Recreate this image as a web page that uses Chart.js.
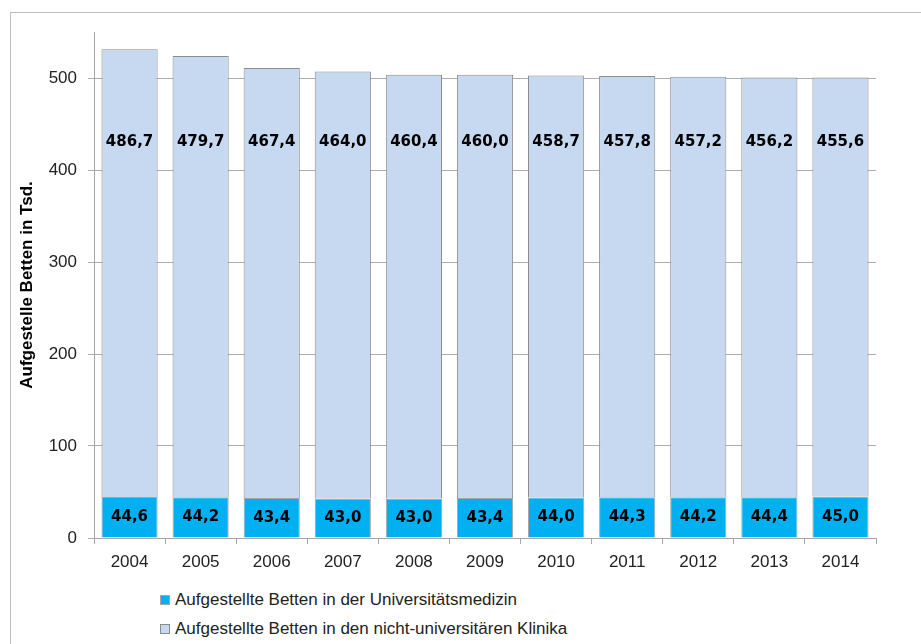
<!DOCTYPE html>
<html>
<head>
<meta charset="utf-8">
<script src="https://cdn.jsdelivr.net/npm/chart.js@4.4.1/dist/chart.umd.min.js"></script>
<style>
  body { margin: 0; width: 921px; height: 644px; overflow: hidden; background: #fff; position: relative; }
  #frame { position: absolute; left: 10px; top: 12px; width: 1000px; height: 800px; border: 1px solid #bfbfbf; }
  #chart { position: absolute; left: 0; top: 0; }
  #legend { position: absolute; left: 160px; top: 590px; font: 17px "Liberation Sans", Arial, sans-serif; color: #222; }
  .item { display: flex; align-items: center; height: 20px; margin-bottom: 9px; }
  .box { width: 8px; height: 8px; margin-right: 5px; border: 1px solid #8c8c8c; }
</style>
</head>
<body>
<div id="frame"></div>
<canvas id="chart" width="921" height="580"></canvas>
<div id="legend"></div>
<script>
const years = ["2004", "2005", "2006", "2007", "2008", "2009", "2010", "2011", "2012", "2013", "2014"];
const uniBeds = [44.6, 44.2, 43.4, 43.0, 43.0, 43.4, 44.0, 44.3, 44.2, 44.4, 45.0];
const otherBeds = [486.7, 479.7, 467.4, 464.0, 460.4, 460.0, 458.7, 457.8, 457.2, 456.2, 455.6];
const seriesNames = ["Aufgestellte Betten in der Universitätsmedizin", "Aufgestellte Betten in den nicht-universitären Klinika"];
const yTicks = [0, 100, 200, 300, 400, 500];

// labels of the upper segments sit at the same height in the original
const topLabelAt = 430;

const fmt = (v) => v.toFixed(1).replace(".", ",");

const barLabels = {
  id: "barLabels",
  afterDatasetsDraw(chart) {
    const ctx = chart.ctx;
    const y = chart.scales.y;
    ctx.save();
    ctx.font = "bold 15px 'DejaVu Sans', sans-serif";
    ctx.fillStyle = "#000";
    ctx.textAlign = "center";
    ctx.textBaseline = "middle";
    chart.data.datasets.forEach((ds, i) => {
      chart.getDatasetMeta(i).data.forEach((bar, j) => {
        const py = i === 0 ? (bar.y + bar.base) / 2 : y.getPixelForValue(topLabelAt);
        ctx.fillText(fmt(ds.data[j]), bar.x, py);
      });
    });
    ctx.restore();
  },
};

const tickFont = { family: "'Liberation Sans', Arial", size: 17 };

const chart = new Chart(document.getElementById("chart"), {
  type: "bar",
  data: {
    labels: years,
    datasets: [
      {
        label: seriesNames[0],
        data: uniBeds,
        backgroundColor: "#00b0f0",
        borderColor: "#a6a6a6",
        borderWidth: 1,
        barPercentage: 0.79,
        categoryPercentage: 1,
      },
      {
        label: seriesNames[1],
        data: otherBeds,
        backgroundColor: "#c6d9f1",
        borderColor: "#8c8c8c",
        borderWidth: 1,
        barPercentage: 0.79,
        categoryPercentage: 1,
      },
    ],
  },
  options: {
    responsive: false,
    animation: false,
    layout: { padding: { left: 0, top: 32, right: 45, bottom: 0 } },
    plugins: {
      legend: { display: false },
      tooltip: { enabled: false },
    },
    scales: {
      x: {
        stacked: true,
        afterFit: (scale) => { scale.height = 42; },
        grid: { drawOnChartArea: false, color: "#a6a6a6", tickLength: 6 },
        border: { color: "#a6a6a6" },
        ticks: { color: "#222", padding: 8, font: tickFont },
      },
      y: {
        stacked: true,
        min: 0,
        max: 550,
        afterBuildTicks: (scale) => {
          scale.ticks = yTicks.map((v) => ({ value: v }));
        },
        afterFit: (scale) => { scale.width = 94; },
        grid: { color: "#adadad", tickLength: 6 },
        border: { color: "#a6a6a6" },
        ticks: { color: "#222", padding: 11, font: tickFont },
        title: {
          display: true,
          text: "Aufgestelle Betten in Tsd.",
          color: "#000",
          padding: { top: 17, bottom: 0 },
          font: { family: "'Liberation Sans', Arial", size: 17, weight: "bold" },
        },
      },
    },
  },
  plugins: [barLabels],
});

// legend stacked vertically, as in the original
const legend = document.getElementById("legend");
chart.data.datasets.forEach((ds) => {
  const item = document.createElement("div");
  item.className = "item";
  const box = document.createElement("span");
  box.className = "box";
  box.style.background = ds.backgroundColor;
  box.style.borderColor = ds.borderColor;
  item.appendChild(box);
  item.appendChild(document.createTextNode(ds.label));
  legend.appendChild(item);
});
</script>
</body>
</html>
